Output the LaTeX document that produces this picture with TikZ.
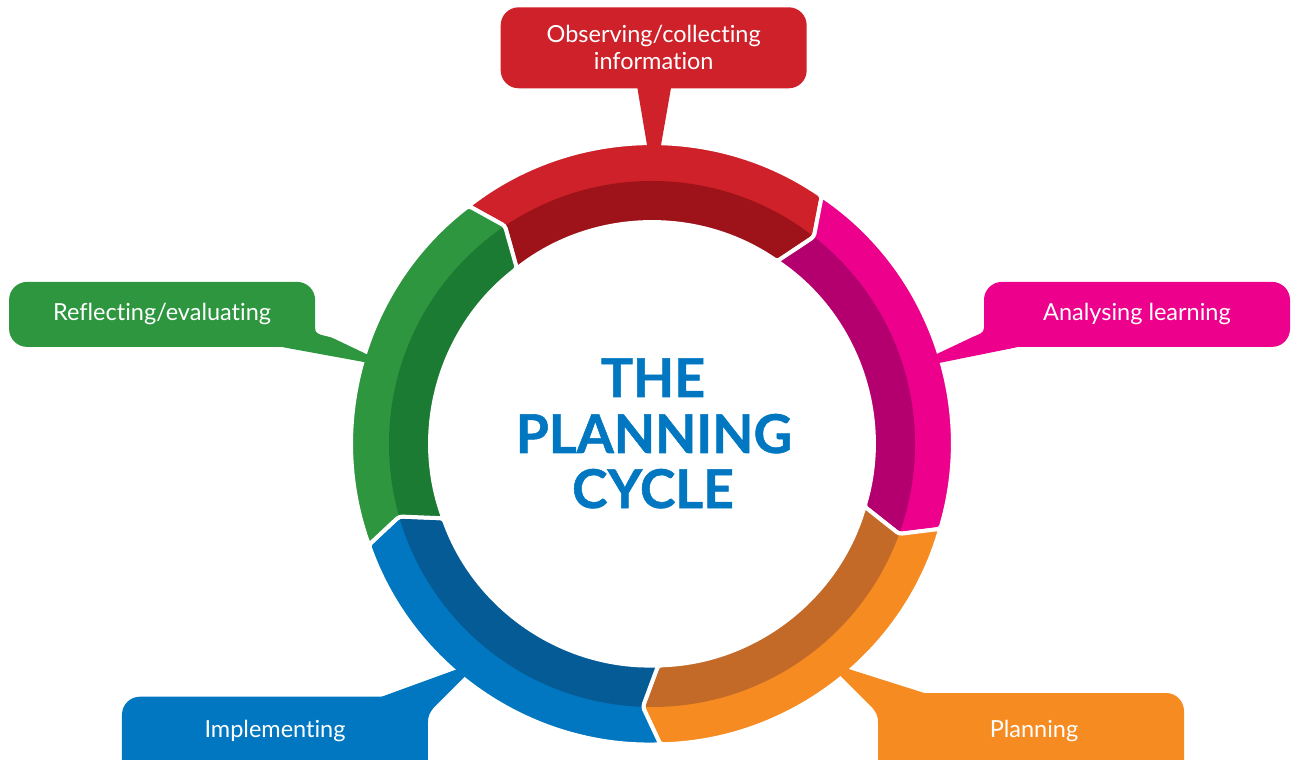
\documentclass[tikz,border=0pt]{standalone}
\usepackage{fontspec}
\setmainfont{Lato}[Ligatures=NoCommon]
\definecolor{redL}{HTML}{CF2129}
\definecolor{redD}{HTML}{9E1219}
\definecolor{pinkL}{HTML}{EC008C}
\definecolor{pinkD}{HTML}{B3006E}
\definecolor{orangeL}{HTML}{F68B21}
\definecolor{orangeD}{HTML}{C36A29}
\definecolor{blueL}{HTML}{0077C0}
\definecolor{blueD}{HTML}{045B95}
\definecolor{greenL}{HTML}{2D963F}
\definecolor{greenD}{HTML}{1C7B33}
\definecolor{titleblue}{HTML}{0077C0}

\tikzset{
  segedge/.style={draw=white, line width=4pt, rounded corners=3pt, line join=round},
  callbox/.style={rounded corners=18pt, minimum width=306pt, text=white, align=center,
    font=\fontsize{23.5}{27}\selectfont, inner sep=0pt},
  lbl/.style={text=white, font=\fontsize{23.5}{27}\selectfont, align=center},
  titletxt/.style={text=titleblue, font=\fontsize{53.5}{55}\selectfont\bfseries\addfontfeatures{FakeBold=1}, anchor=base}
}

\newcommand\ringseg[3]{% #1 start angle, #2 light colour, #3 dark colour
  \pgfmathsetmacro\sA{#1}\pgfmathsetmacro\sB{#1-72}%
  \pgfmathsetmacro\sAo{#1+3.6}\pgfmathsetmacro\sBo{#1-72+3.6}%
  \begin{scope}
    \clip[rounded corners=3pt] (\sAo:300.5pt) arc[start angle=\sAo, end angle=\sBo, radius=300.5pt]
      -- (\sB:263pt) -- (\sBo:221.5pt) arc[start angle=\sBo, end angle=\sAo, radius=221.5pt]
      -- (\sA:263pt) -- cycle;
    \fill[#2] (0,0) circle (310pt);
    \fill[#3] (0,0) circle (263pt);
  \end{scope}
  \path[segedge] (\sAo:300.5pt) arc[start angle=\sAo, end angle=\sBo, radius=300.5pt]
      -- (\sB:263pt) -- (\sBo:221.5pt) arc[start angle=\sBo, end angle=\sAo, radius=221.5pt]
      -- (\sA:263pt) -- cycle;
}

\begin{document}
\begin{tikzpicture}[x=1pt, y=1pt]
\path[use as bounding box] (-652,-316) rectangle (646,444);
\clip (-652,-316) rectangle (646,444);
\coordinate (c) at (0,0);

% ring segments (clockwise arrows)
\ringseg{124}{redL}{redD}
\ringseg{52}{pinkL}{pinkD}
\ringseg{-20}{orangeL}{orangeD}
\ringseg{-92}{blueL}{blueD}
\ringseg{-164}{greenL}{greenD}

% Observing/collecting information
\node[callbox, fill=redL, minimum height=81pt] (obs) at (1.7,396.2) {Observing/collecting\\information};
\fill[redL] (-15.3,360) -- (19.7,360) -- (8,293) -- (-4,293) -- cycle;

% Reflecting/evaluating
\node[callbox, fill=greenL, minimum height=65pt] (refl) at (-489.9,129.6) {Reflecting/evaluating};
\fill[greenL] (-337,120) -- (-337,116) to[out=-90, in=155] (-318.7,105.7) -- (-280.5,87.5)
  -- (-280,80.5) -- (-368.7,96.7) -- (-375,110) -- cycle;

% Analysing learning
\node[callbox, fill=pinkL, minimum height=65pt] (anal) at (485,129.6) {Analysing learning};
\fill[pinkL] (332,120) -- (332,116) to[out=-90, in=25] (321.3,107.3) -- (279.5,87.5)
  -- (282,80) -- (364.7,96.7) -- (371,110) -- cycle;

% Implementing
\fill[blueL, rounded corners=18pt] (-530,-252.7) rectangle (-224,-360);
\node[lbl] (impl) at (-377,-287) {Implementing};
\fill[blueL] (-270.3,-252.7) -- (-191.4,-224) -- (-184.5,-230) -- (-218.5,-264)
  to[out=-130, in=90] (-224,-278) -- (-260,-280) -- (-280,-260) -- cycle;

% Planning
\fill[orangeL, rounded corners=18pt] (226,-249) rectangle (532,-360);
\node[lbl] (plan) at (382,-287) {Planning};
\fill[orangeL] (272.3,-249) -- (193.4,-224) -- (186.5,-230) -- (220.5,-264)
  to[out=-50, in=90] (226,-278) -- (262,-280) -- (282,-256) -- cycle;

% Title
\node[titletxt] (t1) at (1,47) {THE};
\node[titletxt] (t2) at (2,-9) {PLANNING};
\node[titletxt] (t3) at (1,-64) {CYCLE};
\end{tikzpicture}
\end{document}
